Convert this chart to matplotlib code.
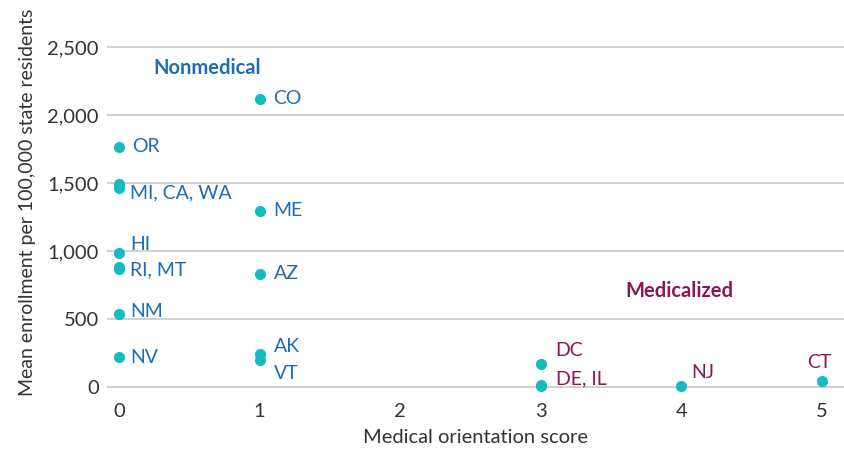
import matplotlib
matplotlib.use("Agg")
import matplotlib.pyplot as plt

plt.rcParams['font.family'] = ['Lato', 'DejaVu Sans']

states = ["CO", "OR", "MI", "CA", "WA", "ME", "HI", "RI", "MT", "AZ", "NM", "NV", "AK", "VT",
          "DC", "DE", "IL", "NJ", "CT"]
scores = [1, 0, 0, 0, 0, 1, 0, 0, 0, 1, 0, 0, 1, 1, 3, 3, 3, 4, 5]
enrollment = [2118, 1765, 1490, 1475, 1465, 1294, 985, 880, 870, 831, 537, 220, 243, 199,
              169, 12, 5, 8, 44]

# label text, anchor state
labels = ["CO", "OR", "MI, CA, WA", "ME", "HI", "RI, MT", "AZ", "NM", "NV", "AK", "VT",
          "DC", "DE, IL", "NJ", "CT"]
label_anchor = ["CO", "OR", "MI", "ME", "HI", "RI", "AZ", "NM", "NV", "AK", "VT",
                "DC", "DE", "NJ", "CT"]
medicalized = {"DC", "DE", "NJ", "CT"}

BLUE = "#1c6db5"
MAROON = "#8c1558"
TEAL = "#14bcc2"

offsets = {  # pixel offsets, alignment
    "CO": (14, 0, 'left'), "OR": (13, 0, 'left'), "MI": (11, -9, 'left'),
    "ME": (14, 0, 'left'), "HI": (11, 9, 'left'), "RI": (11, -3, 'left'),
    "AZ": (14, 0, 'left'), "NM": (11, 2, 'left'), "NV": (11, 0, 'left'),
    "AK": (14, 7, 'left'), "VT": (14, -14, 'left'), "DC": (15, 13, 'left'),
    "DE": (15, 6, 'left'), "NJ": (10, 13, 'left'), "CT": (-2, 18, 'center'),
}

fig = plt.figure(figsize=(8.45, 4.53), dpi=100)
ax = fig.add_axes([107/845, 1 - 395/453, (845-107)/845, (395-10)/453])

ax.scatter(scores, enrollment, s=64, color=TEAL, zorder=3, linewidths=0)

for lab, anc in zip(labels, label_anchor):
    i = states.index(anc)
    dx, dy, ha = offsets[anc]
    col = MAROON if anc in medicalized else BLUE
    ax.annotate(lab, (scores[i], enrollment[i]), xytext=(dx, dy), textcoords='offset pixels',
                ha=ha, va='center', fontsize=14, color=col)

ax.text(0.63, 2345, "Nonmedical", color=BLUE, fontsize=14.5, fontweight='bold',
        ha='center', va='center')
ax.text(3.99, 706, "Medicalized", color=MAROON, fontsize=14.5, fontweight='bold',
        ha='center', va='center')

ax.set_xlim(-0.085, 5.165)
ax.set_ylim(-59, 2772)
ax.set_yticks([0, 500, 1000, 1500, 2000, 2500])
ax.set_yticklabels(["0", "500", "1,000", "1,500", "2,000", "2,500"])
ax.set_xticks([0, 1, 2, 3, 4, 5])
ax.grid(axis='y', color='#c8c8c8', linewidth=1.2)
ax.set_axisbelow(True)
for s in ax.spines.values():
    s.set_visible(False)
ax.tick_params(length=0, labelsize=14.5, colors='#333333', pad=6)
ax.set_xlabel("Medical orientation score", fontsize=14.5, color='#333333', labelpad=6)
ax.set_ylabel("Mean enrollment per 100,000 state residents", fontsize=14, color='#333333', labelpad=8)

fig.savefig("out.png", dpi=100)
